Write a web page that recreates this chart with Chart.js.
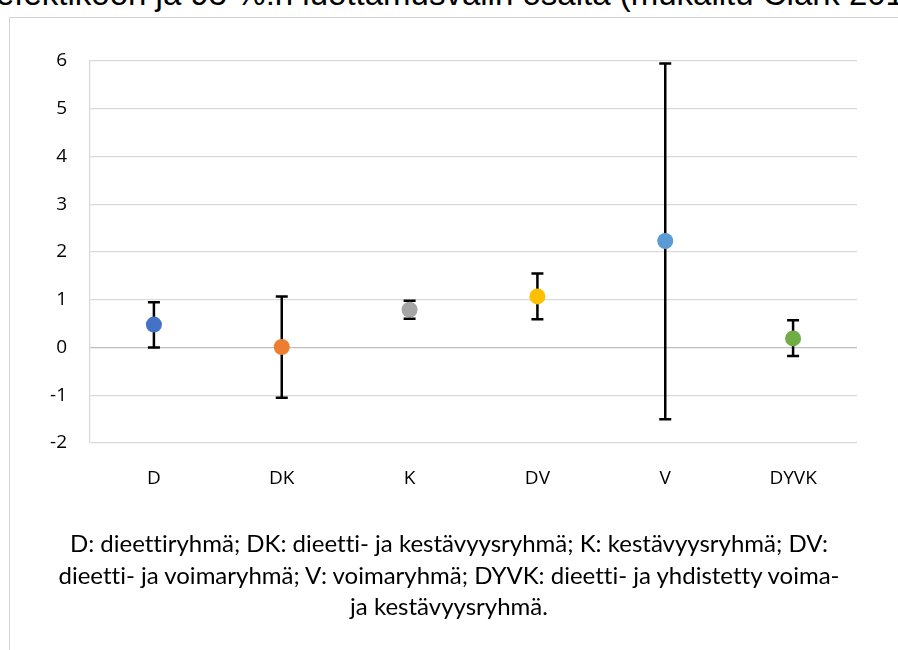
<!DOCTYPE html>
<html>
<head>
    <title>Efektikoot</title>
    <script src="https://cdn.jsdelivr.net/npm/chart.js"></script>
    <style>
        body { margin: 0; width: 898px; height: 650px; overflow: hidden; background: #fff; position: relative; }
        #topline { position: absolute; left: -4px; top: -23px; font: 33px/34px "Liberation Sans", Arial, sans-serif; color: #000; white-space: nowrap; }
        #frame { position: absolute; left: 9px; top: 17px; width: 1000px; height: 700px; border: 1px solid #d4d4d4; }
        #chart { position: absolute; left: 0; top: 0; }
        .caption { position: absolute; left: 0; width: 898px; text-align: center; font: 24px/24px Lato, "Open Sans", sans-serif; font-variant-ligatures: none; color: #000; white-space: nowrap; }
    </style>
</head>
<body>
    <div id="topline">efektikoon ja 95 %:n luottamusvälin osalta (mukailtu Clark 2016)</div>
    <div id="frame"></div>
    <canvas id="chart" width="898" height="650"></canvas>
    <div class="caption" style="top: 531px;">D: dieettiryhmä; DK: dieetti- ja kestävyysryhmä; K: kestävyysryhmä; DV:</div>
    <div class="caption" style="top: 563px;">dieetti- ja voimaryhmä; V: voimaryhmä; DYVK: dieetti- ja yhdistetty voima-</div>
    <div class="caption" style="top: 594px;">ja kestävyysryhmä.</div>
    <script>
        // ryhmät ja arvot (luettu kuvasta)
        const groups = ["D", "DK", "K", "DV", "V", "DYVK"];
        const effect = [0.48, 0.01, 0.79, 1.07, 2.23, 0.19];
        const ciLow = [0.0, -1.05, 0.60, 0.59, -1.50, -0.18];
        const ciHigh = [0.95, 1.07, 0.98, 1.55, 5.95, 0.57];
        const colors = ["#4472C4", "#ED7D31", "#A5A5A5", "#FFC000", "#5B9BD5", "#70AD47"];
        const yTicks = [-2, -1, 0, 1, 2, 3, 4, 5, 6];

        // virhepalkit piirretään ennen pisteitä
        const errorBars = {
            id: "errorBars",
            beforeDatasetsDraw(chart) {
                const ctx = chart.ctx;
                const x = chart.scales.x;
                const y = chart.scales.y;
                ctx.save();
                ctx.strokeStyle = "#000";
                ctx.lineWidth = 2.5;
                groups.forEach((g, i) => {
                    const px = x.getPixelForValue(i);
                    const top = y.getPixelForValue(ciHigh[i]);
                    const bot = y.getPixelForValue(ciLow[i]);
                    ctx.beginPath();
                    ctx.moveTo(px, top);
                    ctx.lineTo(px, bot);
                    ctx.moveTo(px - 6, top);
                    ctx.lineTo(px + 6, top);
                    ctx.moveTo(px - 6, bot);
                    ctx.lineTo(px + 6, bot);
                    ctx.stroke();
                });
                ctx.restore();
            }
        };

        const ctx = document.getElementById("chart").getContext("2d");
        new Chart(ctx, {
            type: "line",
            data: {
                labels: groups,
                datasets: [{
                    data: effect,
                    showLine: false,
                    pointRadius: 8,
                    pointHoverRadius: 8,
                    pointBackgroundColor: colors,
                    pointBorderColor: colors,
                    pointBorderWidth: 0,
                }],
            },
            options: {
                responsive: false,
                animation: false,
                layout: { padding: { left: 0, right: 41, top: 61, bottom: 0 } },
                plugins: { legend: { display: false }, tooltip: { enabled: false } },
                scales: {
                    x: {
                        type: "category",
                        offset: true,
                        grid: { display: false, drawTicks: false },
                        border: { display: false },
                        ticks: { color: "#000", padding: 24, font: { family: "Open Sans", size: 19 } },
                        afterFit: (s) => { s.height = 207; },
                    },
                    y: {
                        min: -2,
                        max: 6,
                        afterBuildTicks: (s) => { s.ticks = yTicks.map((v) => ({ value: v })); },
                        grid: {
                            drawTicks: false,
                            lineWidth: 1.3,
                            color: (c) => (c.tick && c.tick.value === 0 ? "#bfbfbf" : "#d9d9d9"),
                        },
                        border: { display: true, color: "#d9d9d9", width: 1.3 },
                        ticks: { color: "#000", padding: 23, font: { family: "Open Sans", size: 19 } },
                        afterFit: (s) => { s.width = 90; },
                    },
                },
            },
            plugins: [errorBars],
        });
    </script>
</body>
</html>
